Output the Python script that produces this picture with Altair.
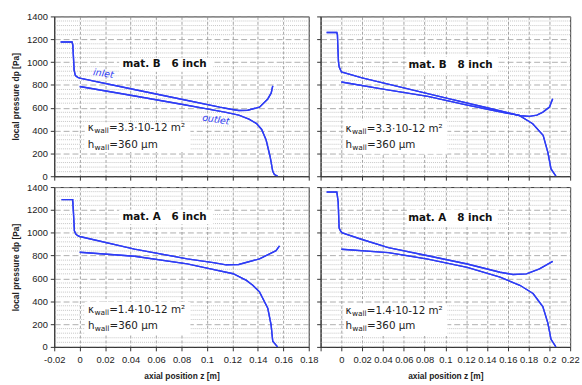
import altair as alt
import pandas as pd

# ---------------- data ----------------
B6_inlet_z = [-0.015, -0.006, -0.0054, -0.0049, -0.0044, -0.0034, -0.0015, 0.0, 0.04, 0.08, 0.11, 0.12, 0.125, 0.132, 0.1413, 0.1478, 0.1505, 0.1517]
B6_inlet_p = [1176, 1176, 1150, 1040, 930, 882, 866, 859, 766, 674, 605, 585, 576, 578, 605, 677, 730, 792]
B6_outlet_z = [0.0, 0.04, 0.08, 0.10, 0.115, 0.125, 0.133, 0.139, 0.143, 0.1465, 0.1496, 0.1517, 0.153, 0.1555]
B6_outlet_p = [786, 709, 631, 590, 560, 535, 500, 461, 410, 317, 173, 43, 15, 0]

B8_inlet_z = [-0.0142, -0.0044, -0.0038, -0.0033, -0.0028, -0.0022, 0.0, 0.0199, 0.06, 0.1, 0.14, 0.172, 0.181, 0.188, 0.1938, 0.2001, 0.2032]
B8_inlet_p = [1259, 1259, 1236, 1110, 1002, 958, 914, 861, 774, 687, 600, 530, 524, 535, 562, 606, 679]
B8_outlet_z = [0.0, 0.04, 0.0831, 0.12, 0.15, 0.171, 0.184, 0.194, 0.1985, 0.2016, 0.2063]
B8_outlet_p = [826, 763, 700, 625, 568, 533, 460, 358, 211, 64, 0]

A6_inlet_z = [-0.0143, -0.0055, -0.0049, -0.0042, -0.0029, -0.0012, 0.0, 0.0431, 0.0845, 0.105, 0.115, 0.125, 0.1413, 0.1543, 0.157]
A6_inlet_p = [1290, 1290, 1175, 1016, 987, 972, 967, 857, 771, 738, 719, 722, 771, 843, 885]
A6_outlet_z = [0.0, 0.0431, 0.0845, 0.1, 0.1206, 0.131, 0.136, 0.1413, 0.1478, 0.1504, 0.1517, 0.1555]
A6_outlet_p = [829, 794, 727, 690, 641, 583, 540, 482, 338, 193, 49, 0]

A8_inlet_z = [-0.0142, -0.0044, -0.0031, -0.0022, -0.0006, 0.0009, 0.0199, 0.0452, 0.0831, 0.121, 0.1526, 0.165, 0.178, 0.1905, 0.2032]
A8_inlet_p = [1357, 1357, 1271, 1041, 1013, 998, 941, 869, 798, 726, 654, 634, 640, 683, 749]
A8_outlet_z = [0.0, 0.0452, 0.0831, 0.121, 0.1526, 0.1716, 0.1843, 0.1937, 0.1985, 0.2016, 0.2063]
A8_outlet_p = [855, 826, 769, 697, 611, 540, 468, 353, 210, 66, 0]

panel_keys = ["B6", "B8", "A6", "A8"]
panel_titles = ["mat. B\u00a0\u00a0\u00a06 inch", "mat. B\u00a0\u00a0\u00a08 inch",
                "mat. A\u00a0\u00a0\u00a06 inch", "mat. A\u00a0\u00a0\u00a08 inch"]
x_max = [0.18, 0.22, 0.18, 0.22]
title_z = [0.0667, 0.105, 0.0667, 0.1047]
title_p = [980, 973, 1137, 1127]
title_box_z = [(0.031, 0.105), (0.0626, 0.151), (0.031, 0.105), (0.063, 0.15)]
title_box_p = [(916, 1037), (899, 1046), (1074, 1204), (1056, 1200)]
kappa_text = ["=3.3·10-12 m²", "=3.3·10-12 m²", "=1.4·10-12 m²", "=1.4·10-12 m²"]
h_text = ["=360 µm", "=360 µm", "=360 µm", "=360 µm"]
kappa_z = [0.0064, 0.004, 0.0065, 0.004]
kappa_p = [423, 416, 323, 318]
h_p = [274, 270, 184, 181]
kappa_box_z = [(0.004, 0.087), (0.0026, 0.102), (0.004, 0.087), (0.0026, 0.102)]
kappa_box_p = [(213, 473), (196, 490), (107, 396), (95, 382)]

flow_labels = ["inlet", "outlet"]
flow_label_z = [0.0186, 0.107]
flow_label_p = [899, 496]

y_major_values = list(range(0, 1401, 200))
y_minor_values = [v for v in range(0, 1401, 40) if v % 200 != 0]

series = {
    "B6": [("inlet", B6_inlet_z, B6_inlet_p), ("outlet", B6_outlet_z, B6_outlet_p)],
    "B8": [("inlet", B8_inlet_z, B8_inlet_p), ("outlet", B8_outlet_z, B8_outlet_p)],
    "A6": [("inlet", A6_inlet_z, A6_inlet_p), ("outlet", A6_outlet_z, A6_outlet_p)],
    "A8": [("inlet", A8_inlet_z, A8_inlet_p), ("outlet", A8_outlet_z, A8_outlet_p)],
}

BLUE = "#2e3cf5"
FONT = "DejaVu Sans"
LFONT = "Liberation Sans"


def panel(i, show_x, show_y, width):
    key = panel_keys[i]
    rows = []
    for name, zs, ps in series[key]:
        for k, (z, p) in enumerate(zip(zs, ps)):
            rows.append({"series": name, "z": z, "p": p, "k": k})
    df = pd.DataFrame(rows)
    xmax = x_max[i]
    xticks = [round(-0.02 + 0.02 * j, 2) for j in range(int(round((xmax + 0.02) / 0.02)) + 1)]
    xs = alt.Scale(domain=[-0.02, xmax], nice=False, zero=False)
    ys = alt.Scale(domain=[0, 1400], nice=False)
    if i == 3:
        lab_expr = "datum.value < -0.01 ? '' : ((datum.value < 0 ? '-' : '') + format(abs(datum.value), '~g'))"
    else:
        lab_expr = "(datum.value < -0.001 ? '-' : '') + format(abs(datum.value), '~g')"
    xaxis = alt.Axis(values=xticks, grid=True, gridDash=[3, 2], gridColor="#8c8c8c", gridWidth=0.8,
                     labels=show_x, labelExpr=lab_expr, labelFont=LFONT, labelFontSize=9.5, labelColor="#222",
                     labelPadding=4, labelOverlap=False, labelFlush=False,
                     title="axial position z [m]" if show_x else "", titleFont=LFONT, titleFontSize=8.5,
                     titleFontWeight="bold", titleColor="#222", titlePadding=8,
                     tickSize=4, tickColor="#333", domainColor="#333")
    yaxis = alt.Axis(values=y_major_values, format="d", grid=True, gridDash=[6, 3], gridColor="#9a9a9a",
                     gridWidth=0.8, labels=show_y, labelOverlap=False, labelFlush=False,
                     labelFont=LFONT, labelFontSize=9.5, labelColor="#222", labelPadding=3,
                     title="local pressure dp [Pa]" if show_y else "", titleFont=LFONT, titleFontSize=8.5,
                     titleFontWeight="bold", titleColor="#222", titlePadding=6,
                     tickSize=4, tickColor="#333", domainColor="#333")

    def X(f):
        return alt.X(f, scale=xs, axis=xaxis)

    def Y(f):
        return alt.Y(f, scale=ys, axis=yaxis)

    minor = alt.Chart(pd.DataFrame({"p": y_minor_values})).mark_rule(
        color="#b8b8b8", strokeWidth=0.8, strokeDash=[1, 1]).encode(y=Y("p:Q"))

    lines = alt.Chart(df).mark_line(color=BLUE, strokeWidth=1.4, clip=True).encode(
        x=X("z:Q"), y=Y("p:Q"), detail="series:N", order="k:Q")

    ann = pd.DataFrame({
        "tz0": [title_box_z[i][0]], "tz1": [title_box_z[i][1]],
        "tp0": [title_box_p[i][0]], "tp1": [title_box_p[i][1]],
        "kz0": [kappa_box_z[i][0]], "kz1": [kappa_box_z[i][1]],
        "kp0": [kappa_box_p[i][0]], "kp1": [kappa_box_p[i][1]],
        "title": [panel_titles[i]], "tz": [title_z[i]], "tpp": [title_p[i]],
        "kz": [kappa_z[i]], "kp": [kappa_p[i]], "hp": [h_p[i]],
        "ktxt": [kappa_text[i]], "htxt": [h_text[i]],
    })
    ab = alt.Chart(ann)

    box1 = ab.mark_rect(color="white").encode(x=X("tz0:Q"), x2="tz1:Q", y=Y("tp0:Q"), y2="tp1:Q")
    box2 = ab.mark_rect(color="white").encode(x=X("kz0:Q"), x2="kz1:Q", y=Y("kp0:Q"), y2="kp1:Q")
    ttl = ab.mark_text(font=FONT, fontSize=10.5, fontWeight="bold", color="#111", align="center",
                       baseline="middle").encode(x=X("tz:Q"), y=Y("tpp:Q"), text="title:N")
    kk = ab.mark_text(font=FONT, fontSize=10.5, color="#222", align="left", baseline="middle").encode(
        x=X("kz:Q"), y=Y("kp:Q"), text=alt.value("κ"))
    ksub = ab.mark_text(font=FONT, fontSize=7.5, color="#222", align="left", baseline="middle",
                        dx=6.5, dy=3).encode(x=X("kz:Q"), y=Y("kp:Q"), text=alt.value("wall"))
    krest = ab.mark_text(font=FONT, fontSize=10.5, color="#222", align="left", baseline="middle",
                         dx=21.5).encode(x=X("kz:Q"), y=Y("kp:Q"), text="ktxt:N")
    hh = ab.mark_text(font=FONT, fontSize=10.5, color="#222", align="left", baseline="middle").encode(
        x=X("kz:Q"), y=Y("hp:Q"), text=alt.value("h"))
    hsub = ab.mark_text(font=FONT, fontSize=7.5, color="#222", align="left", baseline="middle",
                        dx=6.8, dy=3).encode(x=X("kz:Q"), y=Y("hp:Q"), text=alt.value("wall"))
    hrest = ab.mark_text(font=FONT, fontSize=10.5, color="#222", align="left", baseline="middle",
                         dx=21.8).encode(x=X("kz:Q"), y=Y("hp:Q"), text="htxt:N")

    layers = [lines, minor, box1, box2, lines, ttl, kk, ksub, krest, hh, hsub, hrest]
    if i == 0:
        fl = pd.DataFrame({"lab": flow_labels, "z": flow_label_z, "p": flow_label_p})
        flt = alt.Chart(fl).mark_text(font=FONT, fontSize=9.5, fontStyle="italic", color=BLUE,
                                      angle=9, align="center", baseline="middle").encode(
            x=X("z:Q"), y=Y("p:Q"), text="lab:N")
        layers.append(flt)
    return alt.layer(*layers).properties(width=width, height=162)


tl = panel(0, False, True, 258)
tr = panel(1, False, False, 253)
bl = panel(2, True, True, 258)
br = panel(3, True, False, 253)

chart = alt.concat(tl, tr, bl, br, columns=2, spacing={"row": 11, "column": 12}, bounds="flush").properties(
    padding={"left": 11, "top": 8, "right": 2, "bottom": 2},
    background="white",
).configure_view(stroke="#333", strokeWidth=1)

chart.save("out.html", embed_options={"renderer": "svg", "actions": False})
